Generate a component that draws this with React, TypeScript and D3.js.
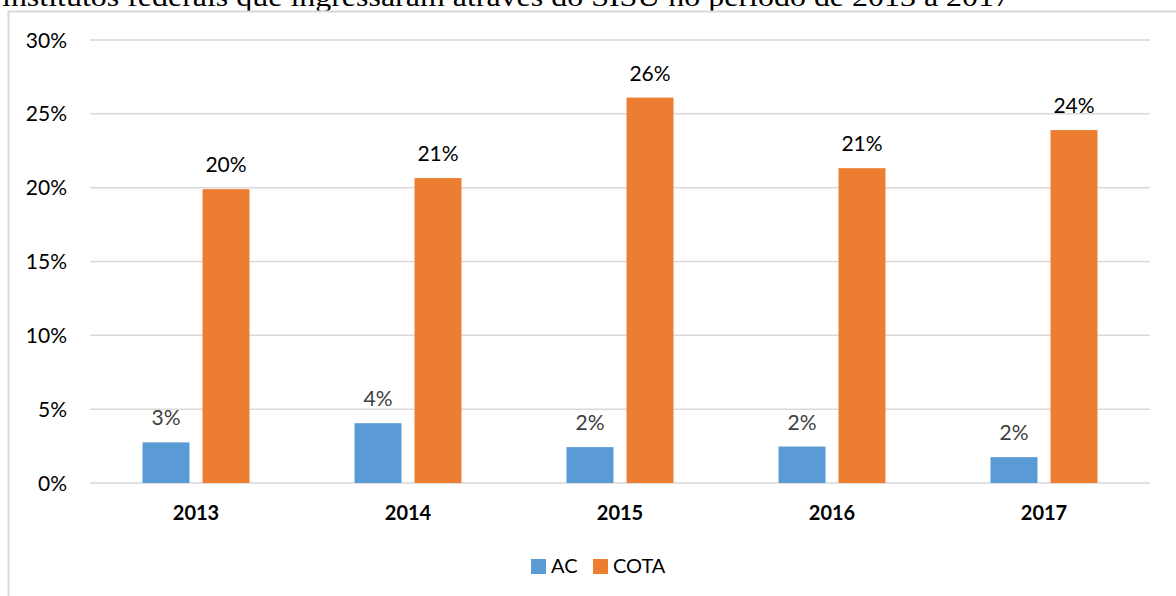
import React from "react";
import * as d3 from "d3";

const years = ["2013", "2014", "2015", "2016", "2017"];
const series = ["AC", "COTA"];
const acValues = [0.0275, 0.0405, 0.0243, 0.0247, 0.0175];
const cotaValues = [0.199, 0.2065, 0.261, 0.2132, 0.239];
const yTicks = [0, 0.05, 0.1, 0.15, 0.2, 0.25, 0.3];
const title = "institutos federais que ingressaram através do SISU no período de 2013 a 2017";

const W = 1176;
const H = 596;
const colors: Record<string, string> = { AC: "#5b9bd5", COTA: "#ed7d31" };
const labelColors: Record<string, string> = { AC: "#404040", COTA: "#000000" };
const font = "Lato, 'Liberation Sans', sans-serif";

export default function App() {
  const x = d3.scaleBand<string>().domain(years).range([90, 1150]).padding(0);
  const y = d3.scaleLinear().domain([0, 0.3]).range([483, 40]);
  const groupW = 107;
  const x1 = d3.scaleBand<string>().domain(series).range([0, groupW]).paddingInner(13 / 60).paddingOuter(0);
  const fmt = d3.format(".0%");
  const valuesOf = (s: string) => (s === "AC" ? acValues : cotaValues);

  const bars: { key: string; s: string; year: string; v: number }[] = [];
  years.forEach((yr, i) => {
    series.forEach((s) => bars.push({ key: s + yr, s, year: yr, v: valuesOf(s)[i] }));
  });
  const gx = (yr: string) => (x(yr) as number) + x.bandwidth() / 2 - groupW / 2;

  // legend
  const legendX = [531, 593];

  return (
    <svg width={W} height={H} style={{ position: "absolute", left: 0, top: 0, background: "#fff" }}>
      <text x={2} y={6} fontFamily="'Liberation Serif', 'Times New Roman', serif" fontSize={28} fill="#000"
        textLength={1008} lengthAdjust="spacingAndGlyphs">{title}</text>
      <rect x={8.5} y={11.5} width={W + 20} height={H + 20} fill="none" stroke="#d9d9d9" strokeWidth={2} />

      {/* gridlines */}
      {yTicks.map((t) => (
        <g key={t}>
          <line x1={90} x2={1150} y1={y(t)} y2={y(t)} stroke="#d9d9d9" strokeWidth={1.5} />
          <text x={67} y={y(t)} dy="0.36em" textAnchor="end" fontFamily={font} fontSize={21} fill="#000">{fmt(t)}</text>
        </g>
      ))}

      {/* bars */}
      {bars.map((b) => {
        const bx = gx(b.year) + (x1(b.s) as number);
        return (
          <g key={b.key}>
            <rect x={bx} y={y(b.v)} width={x1.bandwidth()} height={y(0) - y(b.v)} fill={colors[b.s]} />
            <text x={bx + x1.bandwidth() / 2} y={y(b.v) - 17} textAnchor="middle" fontFamily={font}
              fontSize={21} fill={labelColors[b.s]}>{fmt(b.v)}</text>
          </g>
        );
      })}

      {/* x labels */}
      {years.map((yr) => (
        <text key={yr} x={(x(yr) as number) + x.bandwidth() / 2} y={520} textAnchor="middle"
          fontFamily={font} fontWeight="bold" fontSize={20} fill="#000">{yr}</text>
      ))}

      {/* legend */}
      {series.map((s, i) => (
        <g key={s}>
          <rect x={legendX[i]} y={559} width={15} height={15} fill={colors[s]} />
          <text x={legendX[i] + 20} y={573} fontFamily={font} fontSize={20} fill="#000">{s}</text>
        </g>
      ))}
    </svg>
  );
}
